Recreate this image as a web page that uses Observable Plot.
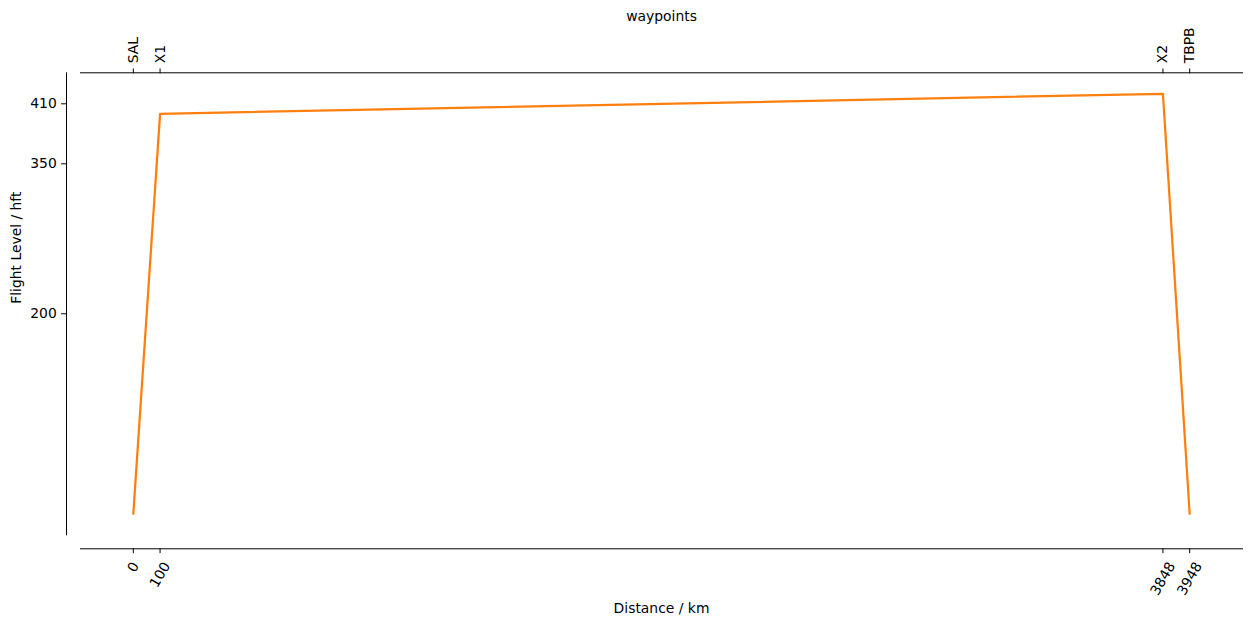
<!DOCTYPE html>
<html><head><meta charset="utf-8">
<script src="https://cdn.jsdelivr.net/npm/d3@7"></script>
<script src="https://cdn.jsdelivr.net/npm/@observablehq/plot@0.6"></script>
<style>body{margin:0;background:#fff;} svg{display:block;}</style>
</head><body><div id="chart"></div>
<script>
const waypoints = ["SAL", "X1", "X2", "TBPB"];
const distances = [0, 100, 3848, 3948];
const flightLevels = [0, 400, 420, 0];
const yTicks = [200, 350, 410];

const data = distances.map((d, i) => ({distance: d, fl: flightLevels[i], name: waypoints[i]}));
const padded = (arr) => { const [lo, hi] = d3.extent(arr); const m = 0.05 * (hi - lo); return [lo - m, hi + m]; };

const FS = 13.9;      // 10pt at 100 dpi
const TICK = 4.86;    // 3.5pt
const OFF = 14;       // spine offset
const charW = 0.636 * FS;

const chart = Plot.plot({
  width: 1252,
  height: 625,
  marginLeft: 66,
  marginRight: 10,
  marginTop: 72.3,
  marginBottom: 76.7,
  style: {fontFamily: "DejaVu Sans", fontSize: FS + "px", color: "black", background: "white"},
  x: {domain: padded(distances), insetLeft: OFF},
  y: {domain: padded(flightLevels), insetBottom: OFF},
  marks: [
    Plot.frame({anchor: "top", insetLeft: OFF, stroke: "black"}),
    Plot.frame({anchor: "bottom", insetLeft: OFF, stroke: "black"}),
    Plot.frame({anchor: "left", insetBottom: OFF, stroke: "black"}),
    Plot.axisY({ticks: yTicks, tickSize: TICK, tickPadding: TICK, label: null, tickFormat: d3.format("d")}),
    Plot.axisX({anchor: "bottom", ticks: distances, tickSize: TICK, tickFormat: () => "", label: null}),
    Plot.axisX({anchor: "top", ticks: distances, tickSize: TICK, tickFormat: () => "", label: null}),
    Plot.line(data, {x: "distance", y: "fl", stroke: "#ff7f0e", strokeWidth: 2.25, strokeLinejoin: "round"}),
    ...data.map(d => Plot.text([d], {
      x: "distance", text: r => String(r.distance), frameAnchor: "bottom",
      rotate: -60, textAnchor: "end", lineAnchor: "middle",
      dx: 0.25 * String(d.distance).length * charW, dy: 14.5
    })),
    Plot.text(data, {x: "distance", text: "name", frameAnchor: "top", rotate: -90,
      textAnchor: "start", lineAnchor: "middle", dy: -9.5}),
    Plot.text(["waypoints"], {frameAnchor: "top", dx: OFF / 2, dy: -56, lineAnchor: "middle"}),
    Plot.text(["Distance / km"], {frameAnchor: "bottom", dx: OFF / 2, dy: 59.7, lineAnchor: "middle"}),
    Plot.text(["Flight Level / hft"], {frameAnchor: "left", rotate: -90, dx: 16 - 66, dy: -OFF / 2, lineAnchor: "middle"})
  ]
});
document.getElementById("chart").appendChild(chart);
</script>
</body></html>
